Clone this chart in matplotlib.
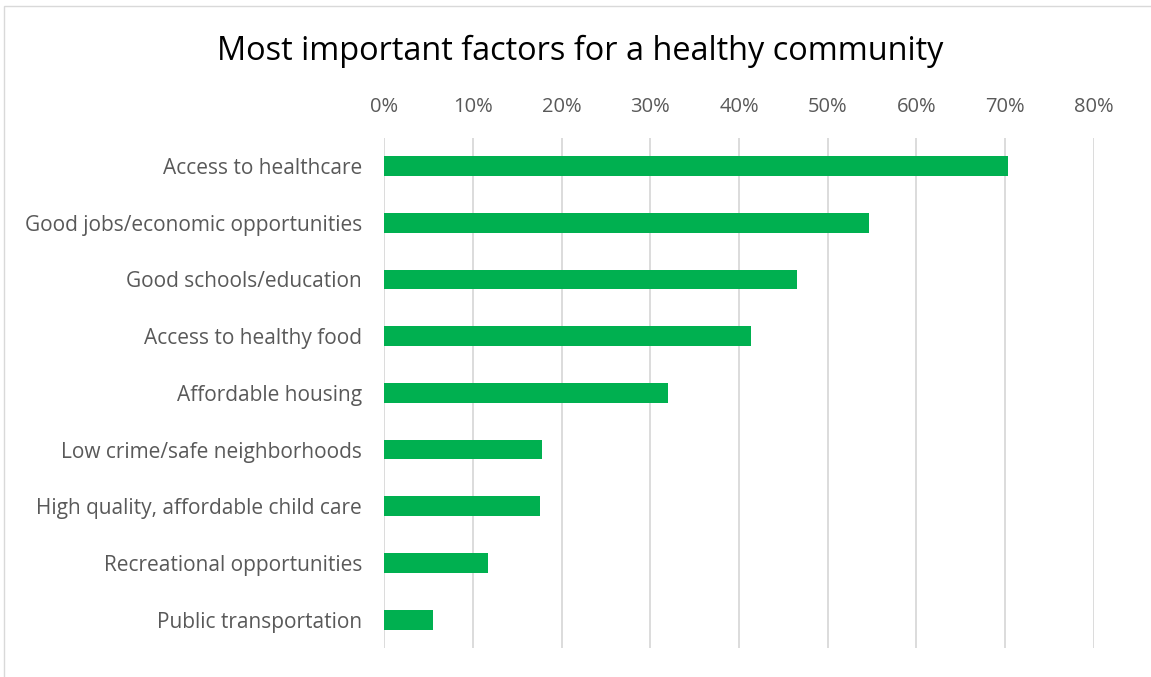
import matplotlib
matplotlib.use("Agg")
import matplotlib.pyplot as plt
from matplotlib.ticker import FuncFormatter, MultipleLocator

# survey results, top to bottom as in the chart
factors = [
    "Access to healthcare",
    "Good jobs/economic opportunities",
    "Good schools/education",
    "Access to healthy food",
    "Affordable housing",
    "Low crime/safe neighborhoods",
    "High quality, affordable child care",
    "Recreational opportunities",
    "Public transportation",
]
shares = [0.703, 0.547, 0.465, 0.414, 0.320, 0.178, 0.176, 0.117, 0.055]

plt.rcParams['font.family'] = ['Open Sans', 'DejaVu Sans']

fig = plt.figure(figsize=(11.51, 6.77), dpi=100)
ax = fig.add_axes([0.3339, 0.0428, 0.6163, 0.7538])

pos = list(range(len(factors)))
ax.barh(pos, shares, height=0.35, color="#00B050", zorder=3)
ax.set_yticks(pos)
ax.set_yticklabels(factors, fontsize=15, color="#595959")
ax.set_ylim(len(factors) - 0.5, -0.5)

ax.set_xlim(0, 0.8)
ax.xaxis.set_major_locator(MultipleLocator(0.1))
ax.xaxis.set_major_formatter(FuncFormatter(lambda v, p: f"{v*100:.0f}%"))
ax.xaxis.tick_top()
ax.tick_params(axis='x', labelsize=14.5, labelcolor="#595959", length=0, pad=15)
ax.tick_params(axis='y', length=0, pad=16)
ax.grid(axis='x', color="#d9d9d9", linewidth=1.3, zorder=0)
for s in ax.spines.values():
    s.set_visible(False)

fig.text(580 / 1151, 1 - 51 / 677, "Most important factors for a healthy community",
         ha="center", va="center", fontsize=23.4, color="#000000")

# thin frame around the chart area
fig.add_artist(plt.Rectangle((4 / 1151, -0.1), 1.2, 1.1 - 6 / 677, transform=fig.transFigure,
                             fill=False, edgecolor="#d9d9d9", linewidth=1))

fig.savefig("out.png", dpi=100)
